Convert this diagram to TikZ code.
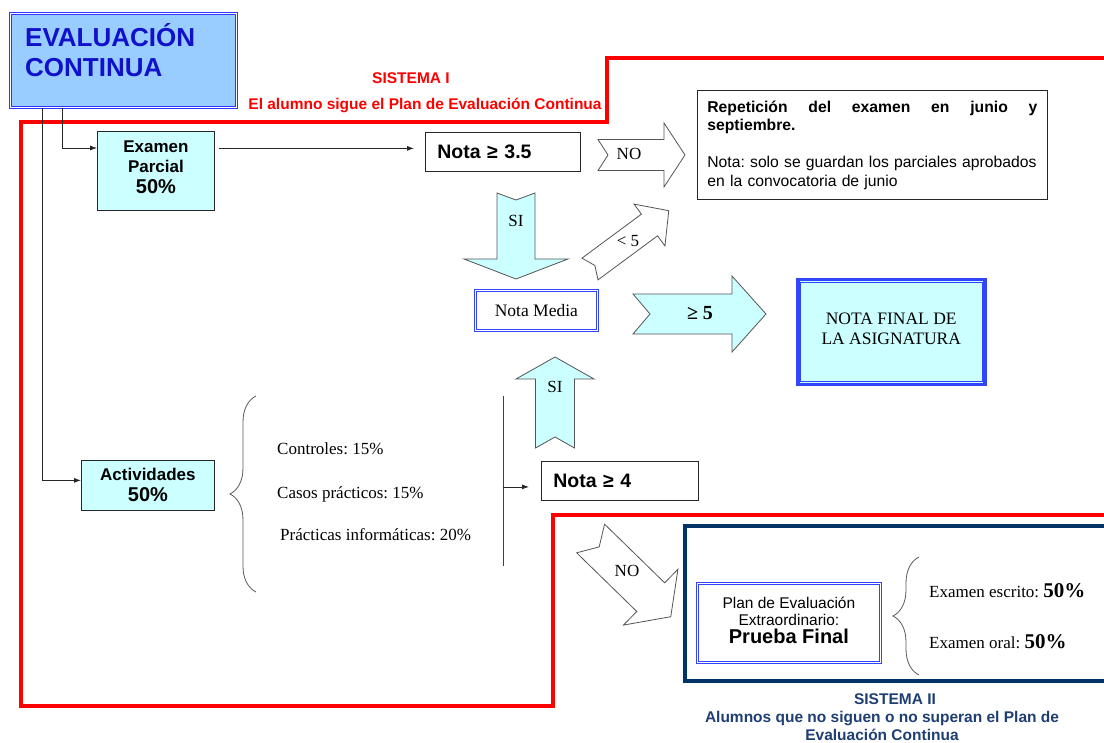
\documentclass[tikz,border=0pt]{standalone}
\usepackage{fontspec}
\setmainfont{Liberation Serif}
\setsansfont{Liberation Sans}
\usetikzlibrary{arrows.meta,calc,decorations.pathreplacing}
\frenchspacing
\definecolor{cyanfill}{HTML}{CCFFFF}
\definecolor{evfill}{HTML}{99CCFF}
\definecolor{evblue}{HTML}{3333FF}
\definecolor{evtext}{HTML}{1111CC}
\definecolor{navyline}{HTML}{003366}
\definecolor{navytext}{HTML}{1F3F73}
\definecolor{redline}{HTML}{FF0000}
\definecolor{arrowgray}{HTML}{555555}
\definecolor{dblblue}{HTML}{3344FF}
\newcommand\fsz[2]{\fontsize{#1pt}{#2pt}\selectfont}
\newcommand\barrow[9]{%
  \begin{scope}[shift={(#1,#2)},rotate=#3]
    \draw[#9] (0,#6) -- ({#4-#5},#6) -- ({#4-#5},#7) -- (#4,0) -- ({#4-#5},-#7) -- ({#4-#5},-#6) -- (0,-#6) -- (#8,0) -- cycle;
  \end{scope}}
\tikzset{
  evbox/.style={draw=evblue, double=white, double distance=1.6pt, line width=0.8pt, fill=evfill, inner sep=0pt},
  cbox/.style={draw=black!85, line width=0.8pt, fill=cyanfill, inner sep=0pt, align=center},
  wbox/.style={draw=black!85, line width=0.8pt, fill=white},
  dblbox/.style={draw=dblblue, double=white, double distance=1.6pt, line width=0.8pt, fill=white, inner sep=0pt, align=center},
  warrow/.style={draw=arrowgray, line width=0.8pt, fill=white, line join=miter},
  carrow/.style={draw=arrowgray, line width=0.8pt, fill=cyanfill, line join=miter},
  lbl/.style={font=\rmfamily\fsz{17}{19}, inner sep=1pt},
  item/.style={font=\rmfamily\fsz{17}{19}, inner sep=0pt, anchor=west},
  redtxt/.style={font=\sffamily\bfseries\fsz{15.5}{18}, text=redline, inner sep=0pt},
  navytxt/.style={font=\sffamily\bfseries\fsz{15.5}{18}, text=navytext, inner sep=0pt, align=center},
  conn/.style={draw=black!85, line width=0.8pt, -{Latex[length=7pt,width=5pt]}},
  bar/.style={draw=black!75, line width=0.8pt},
  bracestyle/.style={draw=black!65, line width=0.8pt, decorate, decoration={brace, amplitude=26pt}}
}
\begin{document}
\begin{tikzpicture}[x=1pt,y=-1pt]
\useasboundingbox (0,0) rectangle (1104,743);
\fill[white] (0,0) rectangle (1104,743);

% System I outline
\draw[redline, line width=4pt, line join=miter]
  (1110,58) -- (607,58) -- (607,122) -- (21,122) -- (21,706) -- (553,706) -- (553,515) -- (1110,515);
% System II box (open to the right)
\draw[navyline, line width=4pt, line join=miter]
  (1110,526) -- (685,526) -- (685,681) -- (1110,681);

% main boxes
\node[evbox, minimum width=226pt, minimum height=94pt, anchor=north west] (ev) at (10,13) {};
\node[font=\sffamily\bfseries\fsz{26}{30}, text=evtext, align=left, anchor=west, inner sep=0pt] (evt) at (25,50) {EVALUACIÓN\\CONTINUA};

\node[cbox, minimum width=117pt, minimum height=79pt, anchor=north west] (ep) at (97,131) {};
\node[align=center, inner sep=0pt, font=\sffamily\bfseries\fsz{17}{20.5}] (ept) at ([yshift=4pt]ep.center) {Examen\\Parcial\\{\fsz{20}{21}50\%}};
\node[cbox, minimum width=133pt, minimum height=50pt, anchor=north west,
      font=\sffamily\bfseries\fsz{17}{21}] (act) at (81,460) {Actividades\\{\fsz{20}{21}50\%}};

\node[wbox, minimum width=155pt, minimum height=39pt, anchor=north west, inner xsep=12pt,
      text width=131pt, align=left, font=\sffamily\bfseries\fsz{19.5}{22}] (n35) at (425,132) {Nota ≥ 3.5};
\node[wbox, minimum width=157pt, minimum height=39pt, anchor=north west, inner xsep=12pt,
      text width=133pt, align=left, font=\sffamily\bfseries\fsz{19.5}{22}] (n4) at (541,461) {Nota ≥ 4};

\node[wbox, minimum height=109pt, anchor=north west, inner xsep=10pt, text width=330pt,
      align=left, font=\sffamily\fsz{15.7}{18.5}] (rep) at (697,90)
  {\hyphenpenalty=10000{\bfseries Repetición\hfill del\hfill examen\hfill en\hfill junio\hfill y\\septiembre.}\\[18.5pt]Nota: solo se guardan los parciales aprobados\\en la convocatoria de junio};

\node[dblbox, minimum width=122pt, minimum height=40pt, anchor=north west,
      font=\rmfamily\fsz{17.5}{19}] (nm) at (475,290) {Nota Media};

\node[draw=dblblue, line width=3.5pt, fill=cyanfill, minimum width=187pt, minimum height=105pt,
      anchor=north west] (nf) at (796,278) {};
\draw[dblblue, line width=1pt] ([shift={(4.5,4.5)}]nf.north west) rectangle ([shift={(-4.5,-4.5)}]nf.south east);
\node[align=center, inner sep=0pt, font=\rmfamily\fsz{17.5}{20}] (nft) at ([yshift=3pt]nf.center) {NOTA FINAL DE\\LA ASIGNATURA};

\node[dblbox, minimum width=183pt, minimum height=79pt, anchor=north west] (plan) at (697,583) {};
\node[align=center, inner sep=0pt, font=\sffamily\fsz{15.5}{17}] (plant) at ([yshift=2.5pt]plan.center) {Plan de Evaluación\\Extraordinario:\\[1pt]{\bfseries\fsz{20}{21}Prueba Final}};

% connectors
\draw[conn] ([xshift=52pt]ev.south west) |- ([yshift=-17pt]ep.north west);
\draw[conn] ([xshift=32pt]ev.south west) |- ([yshift=5pt]act.west);
\coordinate (a1) at ([yshift=3.5pt]n35.west);
\draw[conn, shorten <=4pt, shorten >=11pt] (ep.east |- a1) -- (a1);
\coordinate (bt) at (503,396);
\coordinate (bb) at (503,566);
\draw[bar] (bt) -- (bb);
\coordinate (a2) at ([yshift=-6pt]n4.west);
\draw[conn, shorten >=12pt] (bt |- a2) -- (a2);

% block arrows
\barrow{598}{155}{0}{87}{21}{15.5}{32}{10}{warrow}
\barrow{516}{193}{-90}{86}{20}{19}{52}{7}{carrow}
\barrow{590}{269}{36.5}{98}{24}{13.5}{26}{6}{warrow}
\barrow{633}{314}{0}{133}{34}{20}{38}{17}{carrow}
\barrow{555}{448}{90}{91}{22}{19.5}{39}{11}{carrow}
\barrow{590.6}{538.5}{-44.3}{112}{28}{20}{39}{12}{warrow}

\node[lbl] (lno1) at (629,154) {NO};
\node[lbl] (lsi1) at (516,221) {SI};
\node[lbl] (llt5) at (628,241) {< 5};
\node[lbl, font=\rmfamily\bfseries\fsz{20}{22}] (lge5) at (700,313) {≥ 5};
\node[lbl] (lsi2) at (555,387) {SI};
\node[lbl] (lno2) at (627,571) {NO};

% braces
\draw[bracestyle] (256,592) -- (256,396);
\draw[bracestyle] (919,675) -- (919,557);

\node[item] (c1) at (277,449) {Controles: 15\%};
\node[item] (c2) at (277,494) {Casos prácticos: 15\%};
\node[item] (c3) at (280,535) {Prácticas informáticas: 20\%};
\node[item] (e1) at (929,591) {Examen escrito: {\bfseries\fsz{21}{21}50\%}};
\node[item] (e2) at (929,642) {Examen oral: {\bfseries\fsz{21}{21}50\%}};

% system titles
\node[redtxt] (s1) at (411,78) {SISTEMA I};
\node[redtxt] (s1b) at (425,105) {El alumno sigue el Plan de Evaluación Continua};
\node[navytxt] (s2) at (895,699) {SISTEMA II};
\node[navytxt] (s2b) at (882,726) {Alumnos que no siguen o no superan el Plan de\\Evaluación Continua};
\end{tikzpicture}
\end{document}
